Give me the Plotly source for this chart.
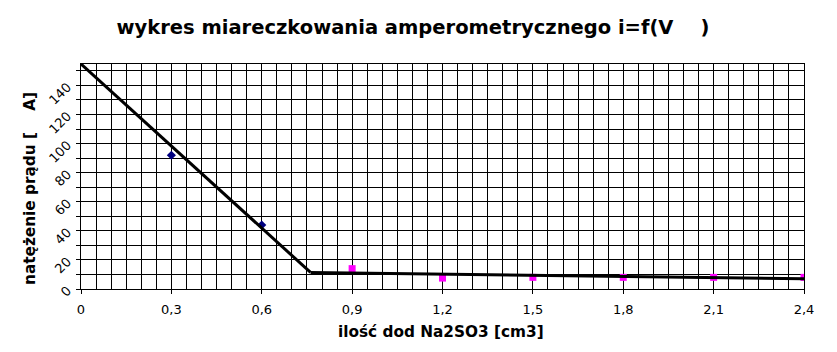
import plotly.graph_objects as go

# data
x_blue = [0.3, 0.6]
y_blue = [92, 44]
x_mag = [0.9, 1.2, 1.5, 1.8, 2.1, 2.4]
y_mag = [14, 7.5, 8, 8, 8, 8]
line1_x = [0, 0.762]
line1_y = [154.7, 11.4]
line2_x = [0.762, 2.4]
line2_y = [11.4, 7.0]

title_text = "wykres miareczkowania amperometrycznego i=f(V\u00a0\u00a0\u00a0\u00a0)"
xlabel = "ilość dod Na2SO3 [cm3]"
ylabel = "natężenie prądu [\u00a0\u00a0\u00a0\u00a0A]"

fig = go.Figure()
fig.add_trace(go.Scatter(x=x_blue, y=y_blue, mode="markers",
                         marker=dict(symbol="diamond", size=7, color="#000080"),
                         showlegend=False))
fig.add_trace(go.Scatter(x=x_mag, y=y_mag, mode="markers",
                         marker=dict(symbol="square", size=7, color="#ff00ff"),
                         showlegend=False))
fig.add_trace(go.Scatter(x=line1_x, y=line1_y, mode="lines",
                         line=dict(color="black", width=3), showlegend=False))
fig.add_trace(go.Scatter(x=line2_x, y=line2_y, mode="lines",
                         line=dict(color="black", width=3), showlegend=False))

font_family = "DejaVu Sans"
fig.update_layout(
    width=837, height=352,
    margin=dict(l=81, r=33, t=64, b=63),
    paper_bgcolor="white", plot_bgcolor="white",
    separators=",.",
    font=dict(family=font_family, color="black", size=12),
    title=dict(text="<b>" + title_text + "</b>", x=413/837, xanchor="center",
               y=1-27/352, yanchor="middle", yref="container",
               font=dict(family=font_family, size=19.5, color="black")),
    annotations=[
        dict(text="<b>" + xlabel + "</b>", xref="paper", yref="paper",
             x=(441-81)/723, y=(289-332)/225, xanchor="center", yanchor="middle",
             showarrow=False, font=dict(family=font_family, size=15.3, color="black")),
        dict(text="<b>" + ylabel + "</b>", xref="paper", yref="paper",
             x=(30-81)/723, y=(289-189)/225, xanchor="center", yanchor="middle",
             textangle=-90, showarrow=False,
             font=dict(family=font_family, size=15.3, color="black")),
    ],
)
fig.update_xaxes(range=[0, 2.4], tick0=0, dtick=0.3, showgrid=True, gridcolor="black",
                 gridwidth=1, ticks="outside", ticklen=4, tickcolor="black",
                 showline=True, linecolor="black", linewidth=1, mirror=True,
                 zeroline=False, automargin=False, ticklabelstandoff=4,
                 minor=dict(dtick=0.05, tick0=0, showgrid=True, gridcolor="black", gridwidth=1,
                            ticks=""),
                 tickfont=dict(size=13, color="black"))
fig.update_yaxes(range=[0, 154.7], tick0=0, dtick=20, showgrid=True, gridcolor="black",
                 gridwidth=1, ticks="outside", ticklen=4, tickcolor="black",
                 showline=True, linecolor="black", linewidth=1, mirror=True,
                 zeroline=False, automargin=False, tickangle=-45, ticklabelstandoff=6,
                 minor=dict(dtick=10, tick0=0, showgrid=True, gridcolor="black", gridwidth=1,
                            ticks="outside", ticklen=4, tickcolor="black"),
                 tickfont=dict(size=13, color="black"))

fig.write_html("out.html")
